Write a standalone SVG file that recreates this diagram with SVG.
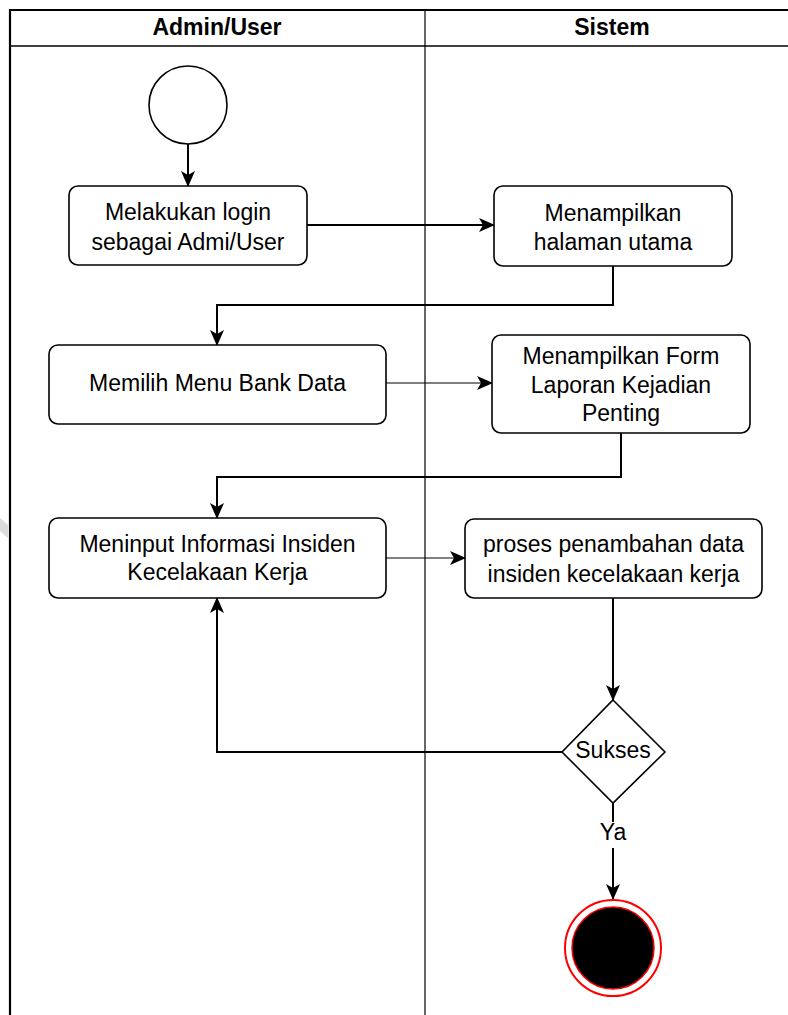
<svg xmlns="http://www.w3.org/2000/svg" width="788" height="1015" viewBox="0 0 788 1015">
  <style>
    .lane { stroke: #000; fill: none; }
    .act { fill: #fff; stroke: #000; stroke-width: 1.6; }
    .txt { font-family: "Liberation Sans", Arial, sans-serif; font-size: 23px; fill: #000; text-anchor: middle; }
    .hdr { font-family: "Liberation Sans", Arial, sans-serif; font-size: 23px; font-weight: bold; fill: #000; text-anchor: middle; }
    .thick { stroke: #000; stroke-width: 2; fill: none; }
    .thin { stroke: #000; stroke-width: 1.2; fill: none; }
  </style>
  <defs>
    <marker id="arrow" markerUnits="userSpaceOnUse" markerWidth="16" markerHeight="14" viewBox="0 0 16 14" refX="15" refY="7" orient="auto">
      <path d="M0,0 L16,7 L0,14 L4,7 Z" fill="#000"/>
    </marker>
  </defs>

  <rect width="788" height="1015" fill="#fff"/>

  <!-- swimlane frame -->
  <g id="swimlanes">
    <line class="lane" x1="9" y1="10" x2="788" y2="10" stroke-width="2"/>
    <line class="lane" x1="10" y1="46" x2="788" y2="46" stroke-width="1.6"/>
    <line class="lane" x1="10" y1="9" x2="10" y2="1015" stroke-width="2.2"/>
    <line class="lane" x1="425" y1="10" x2="425" y2="1015" stroke-width="1.2"/>
    <text class="hdr" x="217" y="35">Admin/User</text>
    <text class="hdr" x="612" y="35">Sistem</text>
    <polygon points="0,518 8,525 8,538 0,531" fill="#dcdcdc"/>
  </g>

  <!-- connectors -->
  <g id="connectors">
    <line class="thick" x1="188" y1="144" x2="188" y2="186" marker-end="url(#arrow)"/>
    <line class="thick" x1="307" y1="225" x2="494" y2="225" marker-end="url(#arrow)"/>
    <path class="thick" d="M613,266 V305 H217 V345" marker-end="url(#arrow)"/>
    <line class="thin" x1="386" y1="383" x2="492" y2="383" marker-end="url(#arrow)"/>
    <path class="thick" d="M621,433 V477 H217 V518" marker-end="url(#arrow)"/>
    <line class="thin" x1="386" y1="558" x2="465" y2="558" marker-end="url(#arrow)"/>
    <line class="thick" x1="613" y1="598" x2="613" y2="700" marker-end="url(#arrow)"/>
    <path class="thick" d="M562,752 H217 V598" marker-end="url(#arrow)"/>
    <line class="thick" x1="613" y1="803" x2="613" y2="899" marker-end="url(#arrow)"/>
    <rect x="598" y="822" width="30" height="26" fill="#fff"/>
    <text class="txt" x="613" y="840">Ya</text>
  </g>

  <!-- start node -->
  <g id="start">
    <circle cx="188" cy="105" r="39" fill="#fff" stroke="#000" stroke-width="1.6"/>
  </g>

  <g id="login">
    <rect class="act" x="69" y="186" width="238" height="79" rx="9"/>
    <text class="txt" x="188" y="220">Melakukan login</text>
    <text class="txt" x="188" y="250">sebagai Admi/User</text>
  </g>

  <g id="halaman-utama">
    <rect class="act" x="494" y="186" width="238" height="80" rx="9"/>
    <text class="txt" x="613" y="221">Menampilkan</text>
    <text class="txt" x="613" y="250">halaman utama</text>
  </g>

  <g id="menu-bank-data">
    <rect class="act" x="49" y="345" width="337" height="79" rx="9"/>
    <text class="txt" x="217.5" y="391">Memilih Menu Bank Data</text>
  </g>

  <g id="form-laporan">
    <rect class="act" x="492" y="335" width="258" height="98" rx="9"/>
    <text class="txt" x="621" y="364">Menampilkan Form</text>
    <text class="txt" x="621" y="393">Laporan Kejadian</text>
    <text class="txt" x="621" y="421">Penting</text>
  </g>

  <g id="input-insiden">
    <rect class="act" x="49" y="518" width="337" height="80" rx="9"/>
    <text class="txt" x="217.5" y="552">Meninput Informasi Insiden</text>
    <text class="txt" x="217.5" y="580">Kecelakaan Kerja</text>
  </g>

  <g id="proses-data">
    <rect class="act" x="465" y="519" width="297" height="79" rx="9"/>
    <text class="txt" x="613.5" y="552">proses penambahan data</text>
    <text class="txt" x="613.5" y="582">insiden kecelakaan kerja</text>
  </g>

  <g id="sukses">
    <polygon class="act" points="613,700 665,752 613,803 562,752"/>
    <text class="txt" x="613" y="758">Sukses</text>
  </g>

  <g id="end">
    <circle cx="613" cy="948" r="48" fill="#fff" stroke="#ff0000" stroke-width="2"/>
    <circle cx="613" cy="948" r="41" fill="#000" stroke="#ff0000" stroke-width="1.5"/>
  </g>
</svg>
